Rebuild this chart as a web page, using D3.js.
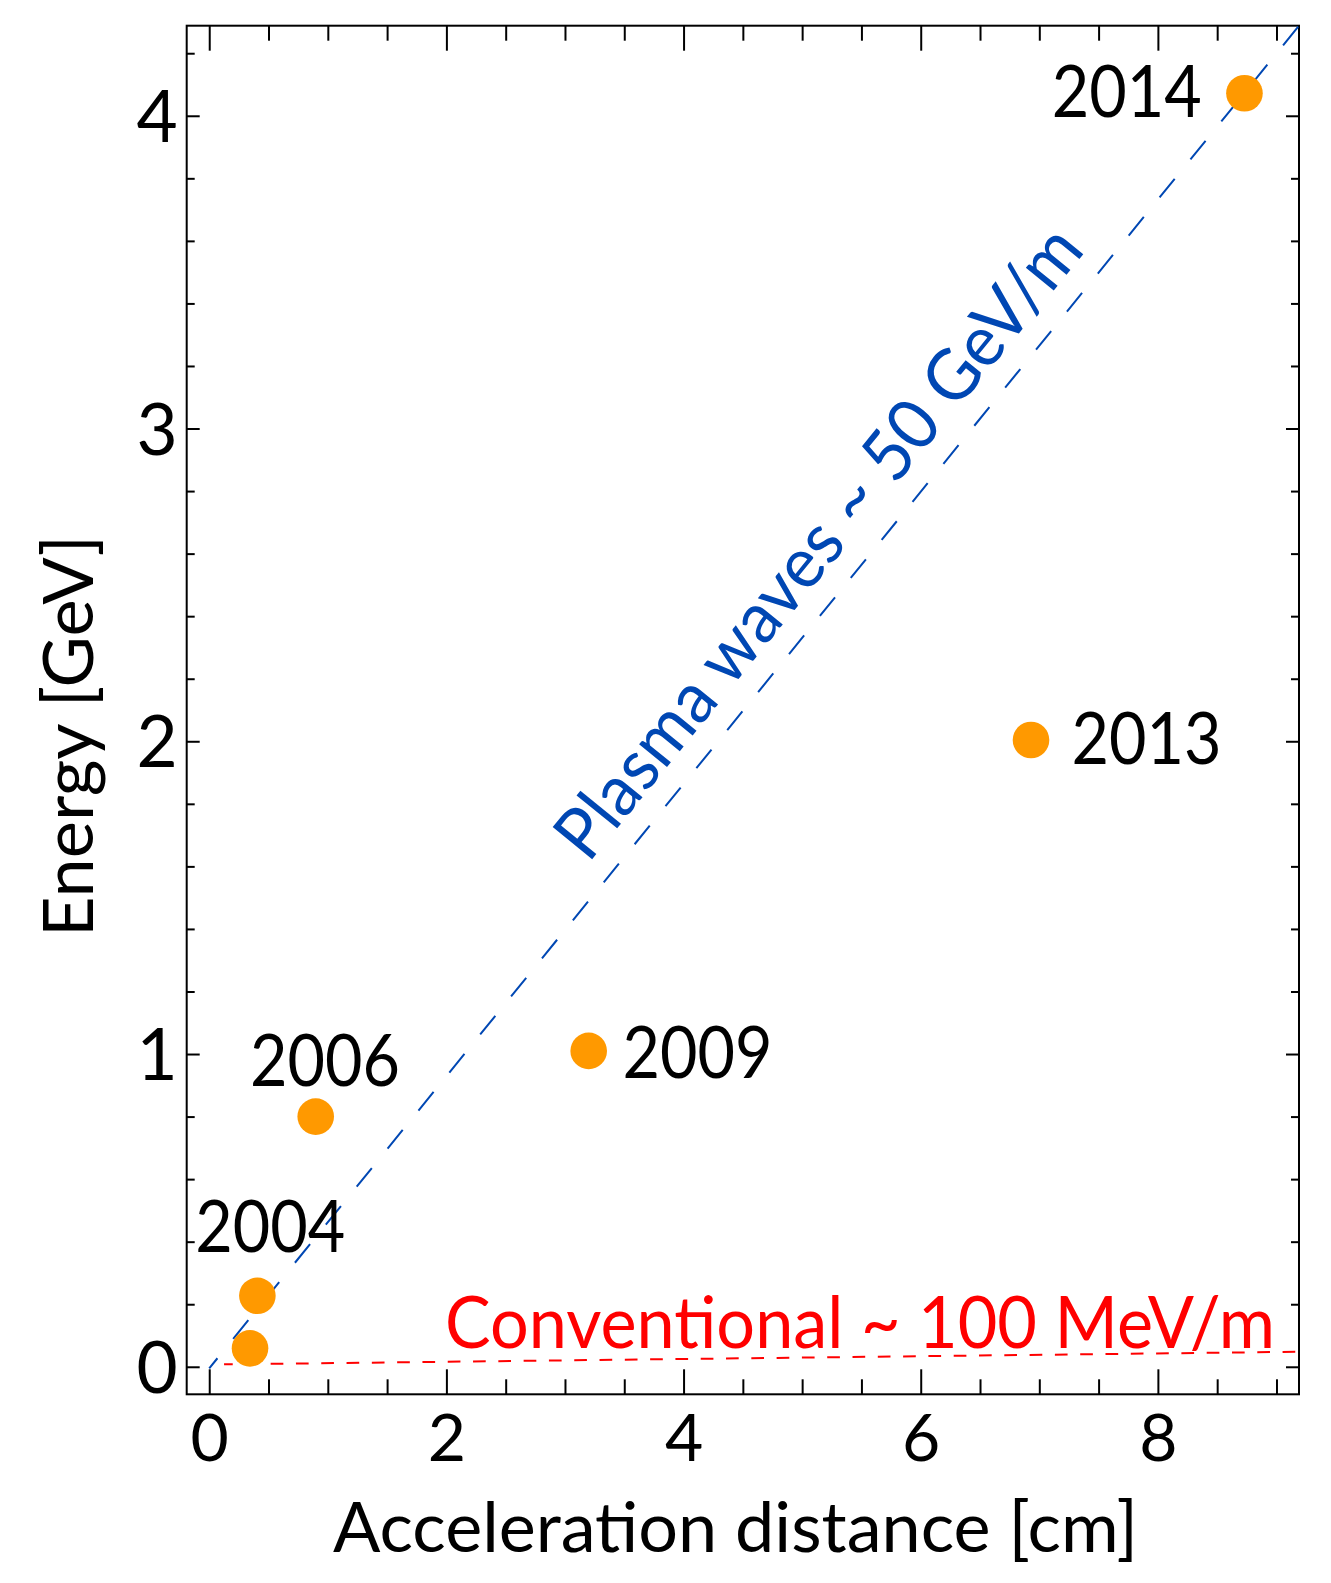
<!DOCTYPE html>
<html>
<head>
<meta charset="utf-8">
<script src="https://cdn.jsdelivr.net/npm/d3@7"></script>
<style>
  html, body { margin: 0; padding: 0; background: #fff; }
  svg { display: block; }
  text { font-family: Lato, "Open Sans", sans-serif; }
</style>
</head>
<body>
<svg id="chart" width="1331" height="1583"></svg>
<script>
// Laser-plasma acceleration milestones: distance (cm) vs. electron energy (GeV)
const distance = [0.344, 0.406, 0.898, 3.20, 6.93, 8.73];
const energy   = [0.059, 0.227, 0.800, 1.01, 2.004, 4.072];
const year     = ["2004", "2004", "2006", "2009", "2013", "2014"];
const labelled = [false, true, true, true, true, true];

const xTicks = [0, 2, 4, 6, 8];
const yTicks = [0, 1, 2, 3, 4];
const xDomain = [-0.19, 9.19];
const yDomain = [-0.088, 4.288];

// Gradient guide lines (distance, energy)
const plasmaLine = [[0, -0.005], [9.19, 4.288]];
const conventionalLine = [[0.125, 0.0077], [9.19, 0.048]];
const plasmaLabel = "Plasma waves ~ 50 GeV/m";
const conventionalLabel = "Conventional ~ 100 MeV/m";
const xTitle = "Acceleration distance [cm]";
const yTitle = "Energy [GeV]";

const W = 1331, H = 1583;
const margin = { left: 186.7, top: 25.7, right: W - 1299, bottom: H - 1394.3 };
const iw = W - margin.left - margin.right;
const ih = H - margin.top - margin.bottom;

const svg = d3.select("#chart");
const g = svg.append("g").attr("transform", `translate(${margin.left},${margin.top})`);

const x = d3.scaleLinear().domain(xDomain).range([0, iw]);
const y = d3.scaleLinear().domain(yDomain).range([ih, 0]);

const xMinor = d3.range(0, 9.01, 0.5).map(v => +v.toFixed(2)).filter(v => !xTicks.includes(v));
const yMinor = d3.range(0, 4.21, 0.2).map(v => +v.toFixed(2)).filter(v => !yTicks.includes(v));

const ORANGE = "#ff9900", BLUE = "#0047b3", RED = "#ff0000";

// clip region for the guide lines
g.append("clipPath").attr("id", "plotClip")
  .append("rect").attr("width", iw).attr("height", ih);

// ---- axes with inward ticks on all four sides ----
function styleAxis(sel) {
  sel.select(".domain").remove();
  sel.selectAll(".tick line").attr("stroke", "#000").attr("stroke-width", 2);
  sel.selectAll("text").attr("fill", "#000");
}

g.append("g").attr("transform", `translate(0,${ih})`)
  .call(d3.axisBottom(x).tickValues(xTicks).tickSize(-25).tickPadding(20).tickFormat(d3.format("d")))
  .call(styleAxis)
  .call(s => s.selectAll("text").attr("font-size", 66).attr("font-family", "Lato"));
g.append("g").attr("transform", `translate(0,${ih})`)
  .call(d3.axisBottom(x).tickValues(xMinor).tickSize(-15).tickFormat(""))
  .call(styleAxis);
g.append("g")
  .call(d3.axisTop(x).tickValues(xTicks).tickSize(-25).tickFormat(""))
  .call(styleAxis);
g.append("g")
  .call(d3.axisTop(x).tickValues(xMinor).tickSize(-15).tickFormat(""))
  .call(styleAxis);

g.append("g")
  .call(d3.axisLeft(y).tickValues(yTicks).tickSize(-13).tickPadding(9).tickFormat(d3.format("d")))
  .call(styleAxis)
  .call(s => s.selectAll("text").attr("font-size", 71).attr("font-family", "Lato").attr("dy", "0.36em"));
g.append("g")
  .call(d3.axisLeft(y).tickValues(yMinor).tickSize(-8).tickFormat(""))
  .call(styleAxis);
g.append("g").attr("transform", `translate(${iw},0)`)
  .call(d3.axisRight(y).tickValues(yTicks).tickSize(-13).tickFormat(""))
  .call(styleAxis);
g.append("g").attr("transform", `translate(${iw},0)`)
  .call(d3.axisRight(y).tickValues(yMinor).tickSize(-8).tickFormat(""))
  .call(styleAxis);

// frame
g.append("rect").attr("width", iw).attr("height", ih)
  .attr("fill", "none").attr("stroke", "#000").attr("stroke-width", 2);

// ---- guide lines ----
const line = d3.line().x(d => x(d[0])).y(d => y(d[1]));

g.append("path").datum(conventionalLine)
  .attr("d", line).attr("clip-path", "url(#plotClip)")
  .attr("fill", "none").attr("stroke", RED).attr("stroke-width", 2)
  .attr("stroke-dasharray", "12.7 12.6").attr("stroke-dashoffset", 4);

g.append("path").datum(plasmaLine)
  .attr("d", line).attr("clip-path", "url(#plotClip)")
  .attr("fill", "none").attr("stroke", BLUE).attr("stroke-width", 2)
  .attr("stroke-dasharray", "24 25").attr("stroke-dashoffset", 11);

// plasma label runs parallel to its line, slightly above it
const p0 = [x(plasmaLine[0][0]), y(plasmaLine[0][1])];
const p1 = [x(plasmaLine[1][0]), y(plasmaLine[1][1])];
const ang = Math.atan2(p1[1] - p0[1], p1[0] - p0[0]);
const alongX = 5.45;
const slopeE = (plasmaLine[1][1] - plasmaLine[0][1]) / (plasmaLine[1][0] - plasmaLine[0][0]);
const foot = [x(alongX), y(plasmaLine[0][1] + slopeE * (alongX - plasmaLine[0][0]))];
const off = 23.5;
const tx = foot[0] + off * Math.sin(ang);
const ty = foot[1] - off * Math.cos(ang);
g.append("text")
  .attr("transform", `translate(${tx},${ty}) rotate(${ang * 180 / Math.PI})`)
  .attr("text-anchor", "middle")
  .attr("font-size", 71).attr("fill", BLUE)
  .attr("textLength", 790).attr("lengthAdjust", "spacingAndGlyphs")
  .text(plasmaLabel);

g.append("text")
  .attr("x", 445 - margin.left).attr("y", 1348.5 - margin.top)
  .attr("font-size", 71).attr("fill", RED)
  .attr("textLength", 830).attr("lengthAdjust", "spacingAndGlyphs")
  .text(conventionalLabel);

// ---- data points ----
const pts = distance.map((d, i) => ({ d, e: energy[i], year: year[i], labelled: labelled[i] }));

g.selectAll("circle.pt").data(pts).join("circle")
  .attr("class", "pt")
  .attr("cx", p => x(p.d)).attr("cy", p => y(p.e))
  .attr("r", 18.3).attr("fill", ORANGE);

// year label placement relative to each labelled point
const placement = {
  "2004": { anchor: "middle", dx: 13, dy: -44 },
  "2006": { anchor: "middle", dx: 9.3, dy: -30.7 },
  "2009": { anchor: "start", dx: 33.8, dy: 26.7 },
  "2013": { anchor: "start", dx: 40.5, dy: 24 },
  "2014": { anchor: "end", dx: -42.7, dy: 23.4 }
};

g.selectAll("text.year").data(pts.filter(p => p.labelled)).join("text")
  .attr("class", "year")
  .attr("x", p => x(p.d) + placement[p.year].dx)
  .attr("y", p => y(p.e) + placement[p.year].dy)
  .attr("text-anchor", p => placement[p.year].anchor)
  .attr("font-size", 71).attr("fill", "#000")
  .attr("textLength", 150).attr("lengthAdjust", "spacingAndGlyphs")
  .text(p => p.year);

// ---- axis titles ----
svg.append("text")
  .attr("x", 735.5).attr("y", 1552)
  .attr("text-anchor", "middle").attr("font-size", 70).attr("fill", "#000")
  .attr("textLength", 805).attr("lengthAdjust", "spacingAndGlyphs")
  .text(xTitle);

svg.append("text")
  .attr("transform", `translate(93,736) rotate(-90)`)
  .attr("text-anchor", "middle").attr("font-size", 70).attr("fill", "#000")
  .attr("textLength", 402).attr("lengthAdjust", "spacingAndGlyphs")
  .text(yTitle);
</script>
</body>
</html>
